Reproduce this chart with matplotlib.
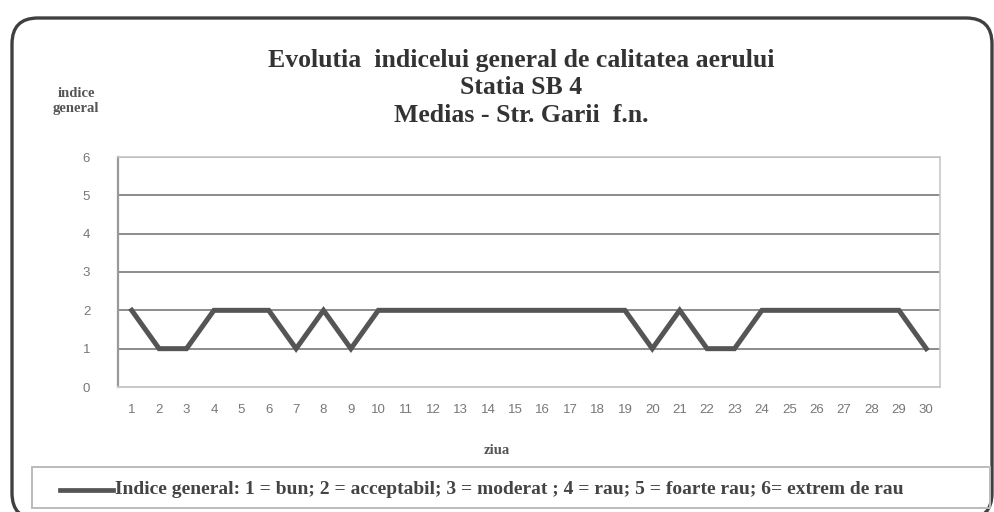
import matplotlib
matplotlib.use("Agg")
import matplotlib.pyplot as plt
from matplotlib.patches import FancyBboxPatch, Rectangle
from matplotlib.lines import Line2D

days = list(range(1, 31))
indice = [2, 1, 1, 2, 2, 2, 1, 2, 1, 2,
          2, 2, 2, 2, 2, 2, 2, 2, 2, 1,
          2, 1, 1, 2, 2, 2, 2, 2, 2, 1]
y_ticks = [0, 1, 2, 3, 4, 5, 6]
title_lines = ["Evolutia  indicelui general de calitatea aerului",
               "Statia SB 4",
               "Medias - Str. Garii  f.n."]
y_label = "indice\ngeneral"
x_label = "ziua"
legend_label = "Indice general: 1 = bun; 2 = acceptabil; 3 = moderat ; 4 = rau; 5 = foarte rau; 6= extrem de rau"

W, H = 994, 512
fig = plt.figure(figsize=(W / 100, H / 100), dpi=100)
fig.patch.set_facecolor("white")

def fx(px):
    return px / W

def fy(py):
    return 1 - py / H

# outer rounded frame
fl, ft, fr, fb = 12, 18, 992, 519
frame = FancyBboxPatch((fx(fl), fy(fb)), fx(fr - fl), (fb - ft) / H,
                       boxstyle="round,pad=0,rounding_size=0.026",
                       transform=fig.transFigure, fill=False,
                       edgecolor="#404040", linewidth=2.4, mutation_aspect=W / H)
fig.add_artist(frame)

# plot area
left, right, top, bottom = 118, 940, 157, 387
ax = fig.add_axes([fx(left), fy(bottom), fx(right - left), (bottom - top) / H])
ax.set_xlim(0.5, 30.5)
ax.set_ylim(0, 6)
for y in y_ticks[1:]:
    ax.axhline(y, color="#8c8c8c", linewidth=1.4, zorder=1)
ax.plot(days, indice, color="#555555", linewidth=3.6, solid_joinstyle="miter", zorder=3)

for s in ["top", "right"]:
    ax.spines[s].set_color("#c8c8c8")
    ax.spines[s].set_linewidth(1.2)
ax.spines["left"].set_color("#999999")
ax.spines["left"].set_linewidth(1.6)
ax.spines["bottom"].set_color("#c8c8c8")
ax.spines["bottom"].set_linewidth(1.4)

ax.set_xticks(days)
ax.set_xticklabels([str(d) for d in days], fontsize=9.5, color="#777777",
                   family="Liberation Sans")
ax.set_yticks(y_ticks)
ax.set_yticklabels([str(v) for v in y_ticks], fontsize=9.5, color="#777777",
                   family="Liberation Sans")
ax.tick_params(axis="both", length=0)
ax.tick_params(axis="y", pad=20)
ax.tick_params(axis="x", pad=12)

# titles
for txt, py in zip(title_lines, [60, 88, 115]):
    fig.text(fx(521), fy(py), txt, ha="center", va="center", fontsize=18.5,
             fontweight="bold", family="Liberation Serif", color="#333333")
fig.text(fx(76), fy(101), y_label, ha="center", va="center", fontsize=10.5,
         fontweight="bold", family="Liberation Serif", color="#555555",
         linespacing=1.2)
fig.text(fx(497), fy(451), x_label, ha="center", va="center", fontsize=10.5,
         fontweight="bold", family="Liberation Serif", color="#555555")

# legend box
lg = Rectangle((fx(32), fy(508)), fx(990 - 32), (508 - 467) / H, transform=fig.transFigure,
               fill=False, edgecolor="#bbbbbb", linewidth=1.4)
fig.add_artist(lg)
fig.add_artist(Line2D([fx(60), fx(113)], [fy(490), fy(490)], transform=fig.transFigure,
                      color="#555555", linewidth=3.4))
fig.text(fx(115), fy(490), legend_label, ha="left", va="center", fontsize=14,
         fontweight="bold", family="Liberation Serif", color="#444444")

fig.savefig("out.png", dpi=100, facecolor="white")
